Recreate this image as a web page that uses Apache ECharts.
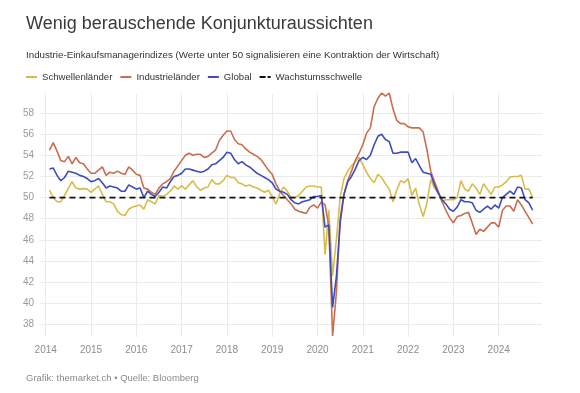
<!DOCTYPE html>
<html>
<head>
<meta charset="utf-8">
<script src="https://cdn.jsdelivr.net/npm/echarts@6/dist/echarts.min.js"></script>
<style>
html,body{margin:0;padding:0;background:#fff;}
#chart{width:580px;height:393px;}
</style>
</head>
<body>
<div id="chart"></div>
<script>
// Monthly data, Jan 2014 .. Sep 2024
const firstYear = 2014;
const schwellenlaender = [
50.7,50.0,49.6,49.6,50.2,50.9,51.5,50.9,50.8,50.85,50.8,50.5,
50.8,51.1,50.3,49.6,49.6,49.4,48.7,48.4,48.3,48.9,49.1,49.2,
49.3,48.9,49.8,49.6,49.4,50.2,50.1,50.3,50.6,51.1,50.8,51.1,
50.8,51.2,51.6,51.0,50.7,50.9,51.0,51.7,51.3,51.3,51.6,52.1,
51.9,51.9,51.4,51.3,51.1,51.2,51.0,50.9,50.7,50.5,50.7,50.1,
49.4,50.4,51.0,50.6,50.0,50.0,50.2,50.6,51.0,51.1,51.1,51.0,
51.0,44.6,48.8,42.6,46.0,50.0,51.8,52.5,53.0,53.4,53.8,53.1,
52.4,51.8,51.4,52.2,51.9,51.3,50.8,49.6,50.7,51.6,51.4,51.8,
50.2,50.9,49.3,48.2,49.5,51.7,50.9,50.4,49.6,49.8,49.8,49.8,
50.0,51.6,50.8,50.6,51.3,50.9,50.3,51.3,50.8,50.3,51.0,51.0,
51.2,51.5,51.95,52.0,52.0,52.1,50.8,50.8,50.0];
const industrielaender = [
54.5,55.2,54.4,53.5,53.4,53.9,53.2,53.8,53.3,53.2,52.7,52.3,
52.3,52.6,52.9,52.1,52.4,52.3,52.5,52.3,52.2,52.9,52.6,52.2,
52.1,50.9,50.8,50.5,50.3,50.9,51.3,51.5,51.8,52.5,53.0,53.5,
54.0,54.2,54.0,54.1,54.1,53.8,53.9,54.2,54.5,55.4,55.9,56.3,
56.3,55.5,55.1,55.0,54.6,54.3,54.1,53.9,53.6,53.1,52.6,52.2,
51.3,50.6,50.2,49.8,49.4,48.9,48.7,48.6,48.5,49.1,49.3,49.0,
49.6,49.3,47.3,36.9,41.0,48.0,50.3,51.6,52.5,53.5,54.2,55.0,
56.1,56.6,58.6,59.4,59.9,59.6,59.9,58.4,57.3,57.0,57.0,56.7,
56.6,56.6,56.6,56.2,54.5,52.5,51.5,50.6,49.6,48.8,48.1,47.6,
48.2,48.3,48.5,48.6,47.6,46.5,47.0,46.8,47.2,47.6,47.6,47.2,
48.8,49.2,49.2,48.7,49.8,49.3,48.7,48.1,47.5];
const globalPMI = [
52.7,52.8,52.1,51.6,51.9,52.5,52.4,52.3,52.1,52.0,51.8,51.5,
51.6,51.8,51.4,50.9,51.1,51.0,50.9,50.6,50.6,51.2,51.0,50.8,
50.9,50.0,50.6,50.3,50.1,50.5,51.0,50.9,51.5,52.0,52.1,52.3,
52.7,52.7,52.6,52.5,52.4,52.5,52.7,53.1,53.2,53.5,53.8,54.3,
54.2,53.6,53.2,53.4,53.1,52.9,52.6,52.3,52.1,51.9,51.7,51.4,
50.8,50.6,50.5,50.3,49.8,49.5,49.4,49.6,49.7,49.8,50.1,50.1,
50.2,47.2,47.4,39.6,42.5,47.6,50.3,51.5,52.0,52.7,53.5,53.8,
53.6,54.0,55.0,55.8,56.0,55.5,55.3,54.2,54.2,54.3,54.3,54.3,
53.3,53.7,53.0,52.4,52.3,52.2,51.2,50.4,49.8,49.4,48.9,48.7,
49.1,49.8,49.6,49.6,49.5,48.8,48.6,48.9,49.2,48.9,49.3,49.0,
50.0,50.3,50.6,50.3,51.0,50.9,49.8,49.5,48.8];
const thresholdValue = 50;
const yearTicks = [2014,2015,2016,2017,2018,2019,2020,2021,2022,2023,2024];
const yTicks = [38,40,42,44,46,48,50,52,54,56,58];

// x position of each month (end of month, in fractional years)
const monthPos = schwellenlaender.map((_, i) => firstYear + (i + 1) / 12);
const pair = arr => arr.map((v, i) => [monthPos[i], v]);

const C_EM = '#d6bd4a', C_DM = '#c86f50', C_GL = '#3e4cbe', C_TH = '#111111';
const chart = echarts.init(document.getElementById('chart'), null, {renderer: 'canvas'});
const FONT = 'Liberation Sans, Arial, Helvetica, sans-serif';
chart.setOption({
  animation: false,
  backgroundColor: '#ffffff',
  textStyle: {fontFamily: FONT},
  title: [
    {text: 'Wenig berauschende Konjunkturaussichten', left: 21, top: 10,
     textStyle: {fontFamily: FONT, fontSize: 18, fontWeight: 'normal', color: '#3a3a3a'}},
    {text: 'Industrie-Einkaufsmanagerindizes (Werte unter 50 signalisieren eine Kontraktion der Wirtschaft)', left: 21, top: 45,
     textStyle: {fontFamily: FONT, fontSize: 9.75, fontWeight: 'normal', color: '#333333'}},
    {text: 'Grafik: themarket.ch • Quelle: Bloomberg', left: 21, top: 368,
     textStyle: {fontFamily: FONT, fontSize: 9.5, fontWeight: 'normal', color: '#8a8a8a'}}
  ],
  legend: {
    left: 21, top: 67, itemWidth: 11, itemHeight: 2, itemGap: 8,
    textStyle: {fontFamily: FONT, fontSize: 9.6, color: '#333333'},
    data: [
      {name: 'Schwellenländer', icon: 'rect'},
      {name: 'Industrieländer', icon: 'rect'},
      {name: 'Global', icon: 'rect'},
      {name: 'Wachstumsschwelle', icon: 'path://M0,0H6V2H0Z M8,0H11V2H8Z'}
    ]
  },
  grid: {left: 40, right: 38, top: 93, bottom: 56, containLabel: false},
  xAxis: {
    type: 'value',
    min: 2013.874, max: 2024.956,
    axisLine: {show: false},
    axisTick: {show: false, customValues: yearTicks},
    splitLine: {show: true, lineStyle: {color: '#ebebeb', width: 1}},
    axisLabel: {customValues: yearTicks, color: '#8c8c8c', fontSize: 10, fontFamily: FONT, margin: 8,
      formatter: v => String(Math.round(v))}
  },
  yAxis: {
    type: 'value',
    min: 36.8, max: 59.9,
    axisLine: {show: false},
    axisTick: {show: false, customValues: yTicks},
    splitLine: {show: true, lineStyle: {color: '#ebebeb', width: 1}},
    axisLabel: {customValues: yTicks, color: '#9a9a9a', fontSize: 10, fontFamily: FONT, margin: 6}
  },
  series: [
    {name: 'Schwellenländer', type: 'line', data: pair(schwellenlaender), symbol: 'none',
     lineStyle: {color: C_EM, width: 1.6}, itemStyle: {color: C_EM}},
    {name: 'Industrieländer', type: 'line', data: pair(industrielaender), symbol: 'none',
     lineStyle: {color: C_DM, width: 1.6}, itemStyle: {color: C_DM}},
    {name: 'Global', type: 'line', data: pair(globalPMI), symbol: 'none',
     lineStyle: {color: C_GL, width: 1.6}, itemStyle: {color: C_GL}},
    {name: 'Wachstumsschwelle', type: 'line', symbol: 'none',
     data: [[monthPos[0], thresholdValue], [monthPos[monthPos.length - 1], thresholdValue]],
     lineStyle: {color: C_TH, width: 1.8, type: [6, 4]}, itemStyle: {color: C_TH}}
  ]
});
</script>
</body>
</html>
